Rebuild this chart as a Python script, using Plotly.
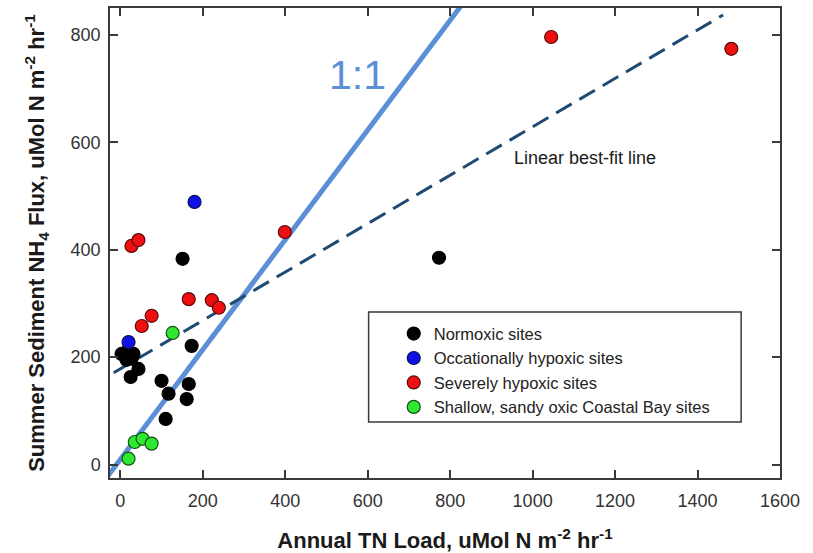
import plotly.graph_objects as go

# ---- data ----
normoxic_x = [3, 18, 32, 15, 27, 44, 25, 173, 100, 166, 117, 161, 110, 151, 773]
normoxic_y = [206, 212, 206, 195, 197, 178, 163, 221, 156, 150, 132, 122, 85, 383, 385]

occ_hypoxic_x = [20, 180]
occ_hypoxic_y = [228, 489]

sev_hypoxic_x = [27, 44, 399, 166, 222, 239, 76, 52, 1045, 1482]
sev_hypoxic_y = [407, 418, 433, 308, 306, 292, 277, 258, 796, 774]

coastal_x = [127, 35, 54, 76, 20]
coastal_y = [245, 42, 48, 39, 11]

fit_x = [-16, 1462]
fit_y = [171, 837]

one_to_one_x = [-35, 840]
one_to_one_y = [-26, 868]

x_ticks = [0, 200, 400, 600, 800, 1000, 1200, 1400, 1600]
y_ticks = [0, 200, 400, 600, 800]

series_names = ["Normoxic sites", "Occationally hypoxic sites",
                "Severely hypoxic sites", "Shallow, sandy oxic Coastal Bay sites"]

FONT = "Liberation Sans, Arial, sans-serif"

fig = go.Figure()

# 1:1 line
fig.add_trace(go.Scatter(x=one_to_one_x, y=one_to_one_y, mode="lines",
                         line=dict(color="#5b8fd6", width=5), showlegend=False,
                         hoverinfo="skip"))
# best-fit line
fig.add_trace(go.Scatter(x=fit_x, y=fit_y, mode="lines",
                         line=dict(color="#1f4a72", width=3, dash="18px,9px"),
                         showlegend=False, hoverinfo="skip"))

groups = [
    (normoxic_x, normoxic_y, "#000000", "#000000"),
    (occ_hypoxic_x, occ_hypoxic_y, "#1010e8", "#101050"),
    (sev_hypoxic_x, sev_hypoxic_y, "#ee1010", "#5a0a0a"),
    (coastal_x, coastal_y, "#30e830", "#155015"),
]
for (gx, gy, fc, lc), name in zip(groups, series_names):
    fig.add_trace(go.Scatter(x=gx, y=gy, mode="markers", name=name,
                             marker=dict(size=13, color=fc,
                                         line=dict(color=lc, width=1.2))))

axis_common = dict(showline=True, linecolor="#3a3a3a", linewidth=1.5,
                   mirror="ticks", ticks="inside", ticklen=8, tickwidth=1.5,
                   tickcolor="#3a3a3a", showgrid=False, zeroline=False,
                   automargin=False,
                   tickfont=dict(family=FONT, size=18, color="#333333"))

fig.update_layout(
    width=813, height=553,
    margin=dict(l=110, r=33, t=8, b=75),
    plot_bgcolor="white", paper_bgcolor="white",
    xaxis=dict(range=[-25, 1600], tickvals=x_ticks, ticklabelstandoff=6, **axis_common,
               title=dict(text="Annual TN Load, uMol N m<sup>-2</sup> hr<sup>-1</sup>",
                          font=dict(family=FONT, size=22, color="#1a1a1a", weight="bold"),
                          standoff=24)),
    yaxis=dict(range=[-25, 850], tickvals=y_ticks, ticklabelstandoff=4, **axis_common,
               title=dict(text="Summer Sediment NH<sub>4</sub> Flux, uMol N m<sup>-2</sup> hr<sup>-1</sup>",
                          font=dict(family=FONT, size=22, color="#1a1a1a", weight="bold"),
                          standoff=20)),
    legend=dict(x=0.4235, y=0.344, xanchor="left", yanchor="top",
                bgcolor="rgba(0,0,0,0)", borderwidth=0,
                font=dict(family=FONT, size=16.5, color="#222222"),
                itemsizing="trace", tracegroupgap=0),
    showlegend=True,
)

# legend frame
fig.add_shape(type="rect", xref="paper", yref="paper",
              x0=0.386, x1=0.942, y0=0.119, y1=0.353,
              line=dict(color="#3a3a3a", width=1.5), fillcolor="rgba(0,0,0,0)")

fig.add_annotation(x=1127, y=571, xref="x", yref="y", text="Linear best-fit line",
                   showarrow=False, font=dict(family=FONT, size=18, color="#1a1a1a"))
fig.add_annotation(x=575, y=725, xref="x", yref="y", text="1:1",
                   showarrow=False, font=dict(family=FONT, size=41, color="#5b8fd6"))

fig.write_html("out.html")
